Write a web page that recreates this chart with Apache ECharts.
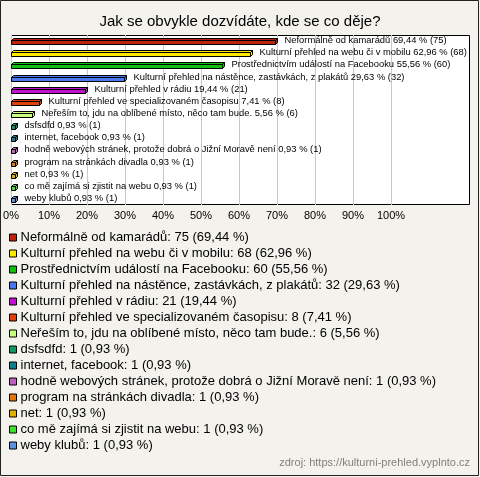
<!DOCTYPE html>
<html><head><meta charset="utf-8">
<script src="https://cdn.jsdelivr.net/npm/echarts@6/dist/echarts.min.js"></script>
<style>html,body{margin:0;padding:0;background:#f3f2ec}#c{width:480px;height:477px}</style>
</head><body><div id="c"></div>
<script>
var titleText = 'Jak se obvykle dozvídáte, kde se co děje?';
var sourceText = 'zdroj: https://kulturni-prehled.vyplnto.cz';
var categories = [
  'Neformálně od kamarádů',
  'Kulturní přehled na webu či v mobilu',
  'Prostřednictvím událostí na Facebooku',
  'Kulturní přehled na nástěnce, zastávkách, z plakátů',
  'Kulturní přehled v rádiu',
  'Kulturní přehled ve specializovaném časopisu',
  'Neřeším to, jdu na oblíbené místo, něco tam bude.',
  'dsfsdfd',
  'internet, facebook',
  'hodně webových stránek, protože dobrá o Jižní Moravě není',
  'program na stránkách divadla',
  'net',
  'co mě zajímá si zjistit na webu',
  'weby klubů'
];
var counts = [75, 68, 60, 32, 21, 8, 6, 1, 1, 1, 1, 1, 1, 1];
var percents = [69.44, 62.96, 55.56, 29.63, 19.44, 7.41, 5.56, 0.93, 0.93, 0.93, 0.93, 0.93, 0.93, 0.93];
var tickValues = [0, 10, 20, 30, 40, 50, 60, 70, 80, 90, 100];
var colors = ['#c0200c', '#ffe800', '#10c010', '#4a78f0', '#c010d0', '#e0400c', '#c8ff80',
              '#109860', '#108090', '#c060c0', '#e07810', '#e0b000', '#40e030', '#6090e0'];

function fmt(p) { return p.toFixed(2).replace('.', ','); }
var legendNames = categories.map(function (c, i) { return c + ': ' + counts[i] + ' (' + fmt(percents[i]) + ' %)'; });
var barLabels = categories.map(function (c, i) { return c + ' ' + fmt(percents[i]) + ' % (' + counts[i] + ')'; });

var chart = echarts.init(document.getElementById('c'));
var D = 2;
var series = [{
  type: 'custom',
  z: 5,
  data: percents.map(function (p, i) { return [p, i]; }),
  renderItem: function (params, api) {
    var i = api.value(1);
    var s = api.coord([0, i]);
    var e = api.coord([api.value(0), i]);
    var x0 = s[0] + 0.5, x1 = Math.round(e[0]) + 0.5, cy = Math.round(s[1]) + 0.5;
    var yt = cy - 1, yb = cy + 3;
    var st = { stroke: '#000', lineWidth: 1, fill: colors[i] };
    return {
      type: 'group',
      children: [
        { type: 'polygon', shape: { points: [[x0, yt], [x0 + D, yt - D], [x1 + D, yt - D], [x1, yt]] }, style: st },
        { type: 'polygon', shape: { points: [[x1, yt], [x1 + D, yt - D], [x1 + D, yb - D], [x1, yb]] }, style: st },
        { type: 'rect', shape: { x: x0, y: yt, width: x1 - x0, height: yb - yt }, style: st },
        { type: 'text', style: { text: barLabels[i], x: x1 + D + 7, y: cy - 1, fontSize: 9.4,
          fontFamily: 'Liberation Sans, Arial, sans-serif', fill: '#000', verticalAlign: 'middle', align: 'left' } }
      ]
    };
  }
}];
legendNames.forEach(function (n, i) {
  series.push({ type: 'bar', name: n, data: [], itemStyle: { color: colors[i] } });
});

chart.setOption({
  backgroundColor: '#f3f2ec',
  animation: false,
  textStyle: { fontFamily: 'Liberation Sans, Arial, sans-serif' },
  title: { text: titleText, left: 'center', top: 9,
    textStyle: { fontSize: 15, fontWeight: 'normal', color: '#000' } },
  graphic: [
    { type: 'rect', z: -10, shape: { x: 0.5, y: 0.5, width: 478, height: 475 },
      style: { fill: '#f3f2ec', stroke: '#222', lineWidth: 1 } },
    { type: 'rect', z: -5, shape: { x: 11.5, y: 35.5, width: 458, height: 169 },
      style: { fill: '#fff', stroke: '#000', lineWidth: 1 } },
    { type: 'text', right: 10, top: 457, style: { text: sourceText, fontSize: 11, fill: '#808080',
      fontFamily: 'Liberation Sans, Arial, sans-serif' } }
  ],
  grid: { left: 11, top: 35, width: 380, height: 170, containLabel: false },
  xAxis: {
    type: 'value', min: tickValues[0], max: tickValues[tickValues.length - 1], interval: 10,
    axisLine: { show: false }, axisTick: { show: false },
    splitLine: { show: true, lineStyle: { color: '#c8c8c8', width: 1 } },
    axisLabel: { formatter: '{value}%', fontSize: 11, color: '#000', margin: 5 }
  },
  yAxis: {
    type: 'category', inverse: true, data: categories,
    axisLine: { show: false }, axisTick: { show: false }, axisLabel: { show: false }, splitLine: { show: false }
  },
  legend: {
    orient: 'vertical', left: 4, top: 226, itemWidth: 7, itemHeight: 7, itemGap: 3,
    icon: 'rect', selectedMode: false,
    itemStyle: { borderColor: '#000', borderWidth: 1 },
    textStyle: { fontSize: 13, color: '#000', padding: [0, 0, 0, -1] },
    data: legendNames
  },
  series: series
});
</script></body></html>
